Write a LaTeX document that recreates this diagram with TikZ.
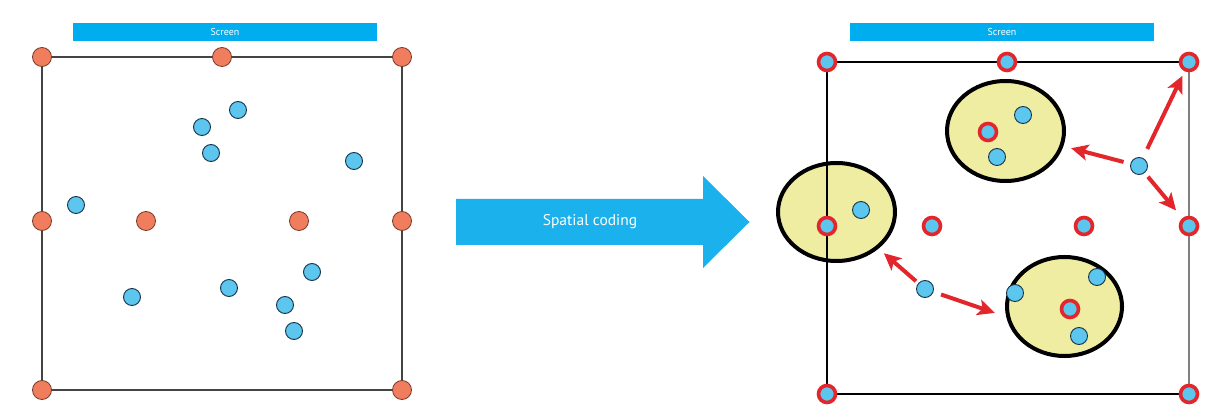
\documentclass[tikz,border=0pt]{standalone}
\usepackage{fontspec}
\setmainfont{PT Sans}
\usetikzlibrary{shapes.geometric,arrows.meta}
\definecolor{barblue}{HTML}{00AEEF}
\definecolor{bigblue}{HTML}{1BB1EC}
\definecolor{dotblue}{HTML}{5CC6EE}
\definecolor{dotedge}{HTML}{15324A}
\definecolor{dotorange}{HTML}{F07E5E}
\definecolor{orangeedge}{HTML}{7A3A2A}
\definecolor{ringred}{HTML}{E2262B}
\definecolor{paleyellow}{HTML}{EEEDA2}
\definecolor{boxgray}{HTML}{444444}
\tikzset{
  screenbar/.style={fill=barblue, minimum width=304pt, minimum height=18pt, inner sep=0pt, text=white, font=\fontsize{10}{11}\selectfont},
  bdot/.style={circle, fill=dotblue, draw=dotedge, line width=0.9pt, minimum size=17pt, inner sep=0pt},
  odot/.style={circle, fill=dotorange, draw=orangeedge, line width=0.8pt, minimum size=19pt, inner sep=0pt},
  rdot/.style={circle, fill=dotblue, draw=ringred, line width=3.6pt, minimum size=17pt, inner sep=0pt},
  zone/.style={ellipse, fill=paleyellow, draw=black, line width=4pt, inner sep=0pt},
  boxline/.style={draw=boxgray, line width=1.5pt},
  redarrow/.style={draw=ringred, line width=4pt, -{Stealth[length=17pt,width=16pt,inset=4pt]}},
  bigtext/.style={text=white, font=\fontsize{15.5}{16}\selectfont}
}
\begin{document}
\begin{tikzpicture}[x=1pt,y=-1pt]
\useasboundingbox (0,0) rectangle (1228,419);
% ---------------- left panel ----------------
\node[screenbar] (barL) at (225,32) {Screen};
\coordinate (Ltl) at (42,57);
\coordinate (Lbr) at (402,390);
\draw[boxline] (Ltl) rectangle (Lbr);
\node[odot] (o1) at (42,57) {};
\node[odot] (o2) at (222,57) {};
\node[odot] (o3) at (402,57) {};
\node[odot] (o4) at (42,221) {};
\node[odot] (o5) at (146,221) {};
\node[odot] (o6) at (299,221) {};
\node[odot] (o7) at (402,221) {};
\node[odot] (o8) at (42,390) {};
\node[odot] (o9) at (402,390) {};
\node[bdot] (b1) at (238,110) {};
\node[bdot] (b2) at (202,127) {};
\node[bdot] (b3) at (211,153) {};
\node[bdot] (b4) at (354,161) {};
\node[bdot] (b5) at (76,205) {};
\node[bdot] (b6) at (132,297) {};
\node[bdot] (b7) at (229,288) {};
\node[bdot] (b8) at (312,272) {};
\node[bdot] (b9) at (285,305) {};
\node[bdot] (b10) at (294,331) {};
% ---------------- big arrow ----------------
\fill[bigblue] (456,199) -- (703,199) -- (703,176) -- (749.5,222) -- (703,268) -- (703,245) -- (456,245) -- cycle;
\node[bigtext] (coding) at (590,222) {Spatial coding};
% ---------------- right panel ----------------
\node[screenbar] (barR) at (1002,32) {Screen};
\node[zone, minimum width=117pt, minimum height=100pt] (e1) at (1005.5,131) {};
\node[zone, minimum width=117pt, minimum height=98pt] (e2) at (836.5,212) {};
\node[zone, minimum width=115pt, minimum height=99pt] (e3) at (1064.5,306.5) {};
\coordinate (Rtl) at (827,62);
\coordinate (Rtr) at (1189,62);
\coordinate (Rbl) at (827,394);
\coordinate (Rbr) at (1189,394);
\draw[black, line width=1.5pt] (Rtr) -- (Rtl) -- (Rbl) -- (Rbr);
\draw[gray, line width=1.5pt] (Rtr) -- (Rbr);
\node[rdot] (r1) at (827,62) {};
\node[rdot] (r2) at (1007,62) {};
\node[rdot] (r3) at (1189,62) {};
\node[rdot] (r4) at (827,226) {};
\node[rdot] (r5) at (932,226) {};
\node[rdot] (r6) at (1084,226) {};
\node[rdot] (r7) at (1189,226) {};
\node[rdot] (r8) at (827,394) {};
\node[rdot] (r9) at (1189,394) {};
\node[bdot] (c1) at (1023,115) {};
\node[rdot] (c2) at (988,132) {};
\node[bdot] (c3) at (997,157) {};
\node[bdot] (c4) at (861,210) {};
\node[bdot] (c5) at (1097,277) {};
\node[bdot] (c6) at (1015,293) {};
\node[rdot] (c7) at (1070,309) {};
\node[bdot] (c8) at (1079,336) {};
\node[bdot] (f1) at (1139,166) {};
\node[bdot] (f2) at (925,289) {};
% ---------------- red arrows ----------------
\draw[redarrow, shorten <=10pt, shorten >=5pt] (f1) -- (r3);
\draw[redarrow, shorten <=7pt, shorten >=8pt] (f1) -- (e1);
\draw[redarrow, shorten <=5pt, shorten >=10pt] (f1) -- (r7);
\draw[redarrow, shorten <=3pt, shorten >=7pt] (f2) -- (e2);
\draw[redarrow, shorten <=8pt, shorten >=12pt] (f2) -- (e3.190);
\end{tikzpicture}
\end{document}
